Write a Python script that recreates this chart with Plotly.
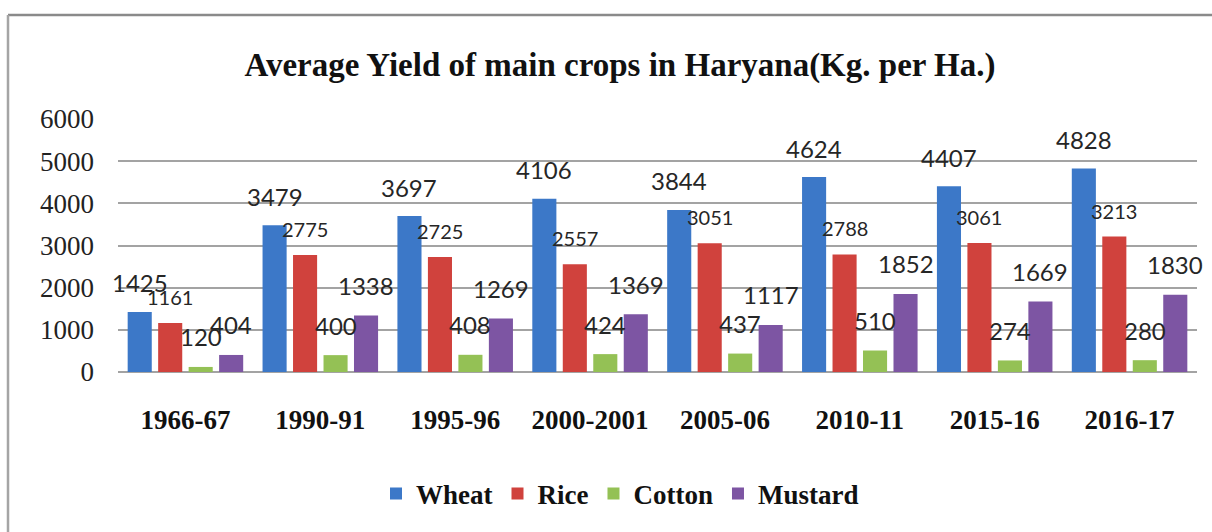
import plotly.graph_objects as go

# Average yield (Kg. per Ha.) of main crops in Haryana
years = ["1966-67", "1990-91", "1995-96", "2000-2001", "2005-06", "2010-11", "2015-16", "2016-17"]
wheat = [1425, 3479, 3697, 4106, 3844, 4624, 4407, 4828]
rice = [1161, 2775, 2725, 2557, 3051, 2788, 3061, 3213]
cotton = [120, 400, 408, 424, 437, 510, 274, 280]
mustard = [404, 1338, 1269, 1369, 1117, 1852, 1669, 1830]

series = [
    ("Wheat", wheat, "#3c78c8", 24, 29),
    ("Rice", rice, "#d0423d", 20, 26),
    ("Cotton", cotton, "#94c155", 24, 30),
    ("Mustard", mustard, "#7d55a3", 24, 30),
]

W, H = 1212, 532
L, R, T, B = 118, 15, 119, 160
pw, ph = W - L - R, H - T - B

BARGAP = 0.096
GROUPGAP = 0.21
slot = (1 - BARGAP) / len(series)

SERIF = "Liberation Serif, Times New Roman, serif"

fig = go.Figure()
annotations = []
for k, (name, vals, color, fsize, lift) in enumerate(series):
    fig.add_trace(go.Bar(
        name=name, x=years, y=vals,
        marker=dict(color=color, line=dict(width=0)),
        hoverinfo="x+y+name",
    ))
    off = (k - (len(series) - 1) / 2) * slot
    for i, v in enumerate(vals):
        annotations.append(dict(
            x=i + off, y=v, xref="x", yref="y",
            text=str(v), showarrow=False,
            yanchor="middle", xanchor="center", yshift=lift,
            font=dict(family="Lato, Carlito, Calibri, sans-serif", size=fsize, color="#262626"),
        ))

def px_x(p):
    return (p - L) / pw

def px_y(p):
    return (H - B - p) / ph

fig.update_layout(
    width=W, height=H,
    margin=dict(l=L, r=R, t=T, b=B),
    paper_bgcolor="white", plot_bgcolor="white",
    barmode="group", bargap=BARGAP, bargroupgap=GROUPGAP,
    title=dict(
        text="<b>Average Yield of main crops in Haryana(Kg. per Ha.)</b>",
        x=620 / W, xref="container", xanchor="center",
        y=1 - 64 / H, yref="container", yanchor="middle",
        font=dict(family=SERIF, size=33, color="#111111"),
    ),
    xaxis=dict(
        type="category", range=[-0.5, len(years) - 0.5],
        showgrid=False, showline=False, zeroline=False, ticks="",
        ticklabelstandoff=29,
        tickfont=dict(family=SERIF, size=27, color="#111111", weight="bold"),
    ),
    yaxis=dict(
        range=[0, 6000], tickvals=[0, 1000, 2000, 3000, 4000, 5000, 6000],
        showgrid=True, gridcolor="#a3a3a3", gridwidth=1.5,
        zeroline=True, zerolinecolor="#a3a3a3", zerolinewidth=1.5,
        showline=False, ticks="", ticklabelstandoff=23,
        tickfont=dict(family=SERIF, size=27, color="#222222"),
    ),
    legend=dict(
        orientation="h", x=px_x(620), xanchor="center", y=px_y(494), yanchor="middle",
        font=dict(family=SERIF, size=27, color="#111111", weight="bold"),
        itemwidth=30, tracegroupgap=0, bgcolor="rgba(0,0,0,0)",
    ),
    annotations=annotations,
    shapes=[
        dict(type="line", xref="paper", yref="paper",
             x0=px_x(8), x1=px_x(W + 5), y0=px_y(15), y1=px_y(15),
             line=dict(color="#8a8a8a", width=2.5)),
        dict(type="line", xref="paper", yref="paper",
             x0=px_x(8), x1=px_x(8), y0=px_y(15), y1=px_y(H + 5),
             line=dict(color="#a5a5a5", width=2.5)),
    ],
    showlegend=True,
)

fig.write_html("out.html")
